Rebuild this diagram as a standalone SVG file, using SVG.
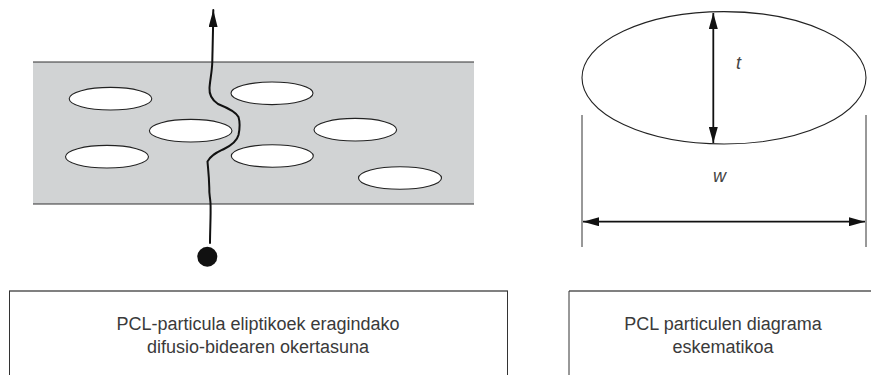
<svg xmlns="http://www.w3.org/2000/svg" width="871" height="375" viewBox="0 0 871 375">
  <defs>
    <style>
      .band { fill: #d1d3d4; }
      .edge { stroke: #333; stroke-width: 1.2; fill: none; }
      .particle { fill: #fff; stroke: #222; stroke-width: 1.1; }
      .path { fill: none; stroke: #111; stroke-width: 2; stroke-linejoin: round; stroke-linecap: round; }
      .dim { fill: none; stroke: #111; stroke-width: 1.8; }
      .ext { stroke: #333; stroke-width: 1; }
      .var { font-family: "Liberation Sans", Arial, sans-serif; font-size: 18px; font-style: italic; fill: #444; }
      .caption { font-family: "Liberation Sans", Arial, sans-serif; font-size: 18px; fill: #3a3a3a; text-anchor: middle; }
      .box-top { stroke: #808080; stroke-width: 2; }
      .box-side { stroke: #333; stroke-width: 1; }
    </style>
    <marker id="head" viewBox="0 0 16 9" refX="16" refY="4.5" markerWidth="16" markerHeight="9" markerUnits="userSpaceOnUse" orient="auto-start-reverse">
      <path d="M0,0 L16,4.5 L0,9 Z" fill="#111"/>
    </marker>
    <marker id="tip" viewBox="0 0 17 9" refX="17" refY="4.5" markerWidth="17" markerHeight="9" markerUnits="userSpaceOnUse" orient="auto">
      <path d="M0,0 L17,4.5 L0,9 Z" fill="#111"/>
    </marker>
  </defs>

  <!-- Polymer layer with embedded elliptic particles -->
  <g id="layer">
    <rect class="band" x="33" y="62" width="441" height="142"/>
    <line class="edge" x1="33" y1="62" x2="474" y2="62"/>
    <line class="edge" x1="33" y1="204" x2="474" y2="204"/>
  </g>
  <g id="particles">
    <ellipse class="particle" cx="110.5" cy="98.7" rx="41.3" ry="11.3"/>
    <ellipse class="particle" cx="190.7" cy="130.7" rx="41.3" ry="11.3"/>
    <ellipse class="particle" cx="107" cy="156.7" rx="41.5" ry="11.3"/>
    <ellipse class="particle" cx="272" cy="93.3" rx="41" ry="11.3"/>
    <ellipse class="particle" cx="355.3" cy="129.7" rx="41.3" ry="11.3"/>
    <ellipse class="particle" cx="272.3" cy="156" rx="41" ry="11.3"/>
    <ellipse class="particle" cx="400" cy="178" rx="41.5" ry="11.3"/>
  </g>

  <!-- Tortuous diffusion path -->
  <g id="connectors">
    <path class="path" marker-end="url(#tip)" d="M210,243 C210,230 211,215 210.5,203 C210,196 209,194 209.3,188 C209,175 208,168 207.5,161.5 C212,154 218,152 224,149 C232,145 237,141 238.5,135 C240,128 240,122 238.5,117 C236,112 228,108 218,104 C212,100 209,95 209.5,88 C210,80 212,72 212.3,62 C212.5,50 213,38 213.3,10"/>
    <circle cx="207.3" cy="256.7" r="10" fill="#111"/>
  </g>

  <!-- Particle schematic -->
  <g id="particle-schematic">
    <ellipse cx="724" cy="77.8" rx="142" ry="66.2" fill="none" stroke="#222" stroke-width="1.1"/>
    <line class="dim" x1="713.3" y1="13" x2="713.3" y2="143" marker-start="url(#head)" marker-end="url(#head)"/>
    <text class="var" x="736" y="68.5">t</text>
    <line class="ext" x1="582" y1="115" x2="582" y2="247"/>
    <line class="ext" x1="866" y1="115" x2="866" y2="247"/>
    <line class="dim" x1="583" y1="221.7" x2="865" y2="221.7" marker-start="url(#head)" marker-end="url(#head)"/>
    <text class="var" x="713" y="182">w</text>
  </g>

  <!-- Caption boxes -->
  <g id="caption-left">
    <line class="box-top" x1="9" y1="291" x2="508" y2="291"/>
    <line class="box-side" x1="9.5" y1="291" x2="9.5" y2="380"/>
    <line class="box-side" x1="507.5" y1="291" x2="507.5" y2="380"/>
    <text class="caption" x="258" y="330">PCL-particula eliptikoek eragindako</text>
    <text class="caption" x="258" y="353">difusio-bidearen okertasuna</text>
  </g>
  <g id="caption-right">
    <line class="box-top" x1="569" y1="291" x2="871" y2="291"/>
    <line class="box-side" x1="569" y1="291" x2="569" y2="380"/>
    <text class="caption" x="723" y="330">PCL particulen diagrama</text>
    <text class="caption" x="723" y="353">eskematikoa</text>
  </g>
</svg>
